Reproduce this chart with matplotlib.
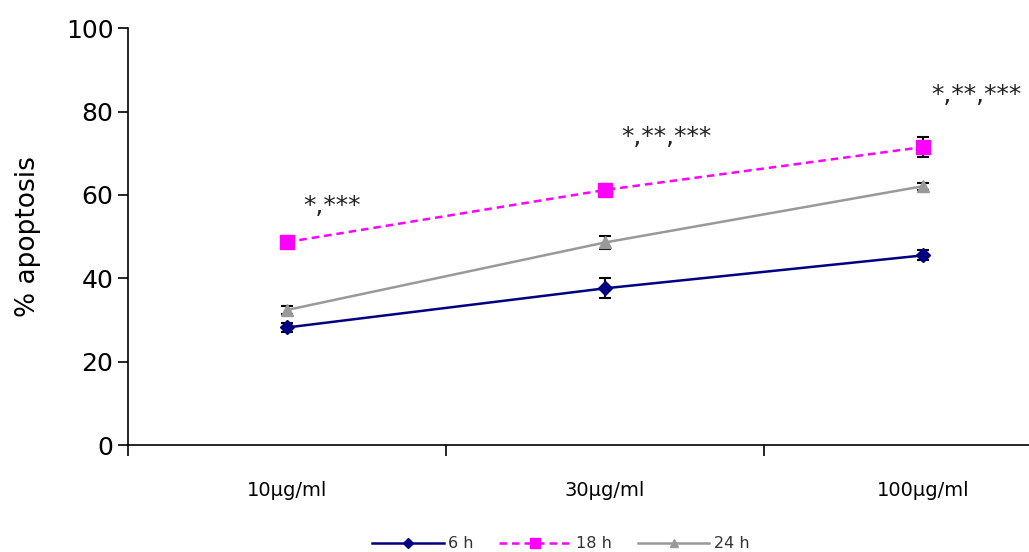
import matplotlib.pyplot as plt
from matplotlib.lines import Line2D
import numpy as np

doses = ['10\u00b5g/ml', '30\u00b5g/ml', '100\u00b5g/ml']
h6 = [28.2, 37.6, 45.5]
h6_err = [1.0, 2.4, 1.2]
h18 = [48.7, 61.2, 71.5]
h18_err = [1.5, 1.5, 2.5]
h24 = [32.4, 48.6, 62.1]
h24_err = [1.0, 1.6, 0.8]
stars = ['*,***', '*,**,***', '*,**,***']
star_y = [54.5, 71, 81]

x = np.arange(len(doses)) + 0.5

fig = plt.figure(figsize=(10.29, 5.52), dpi=100)
ax = fig.add_axes([0.1244, 0.1938, 0.927, 0.755])

styles = [
    (h6, h6_err, '#000080', 'D', 7, '-', '6 h'),
    (h18, h18_err, '#ff00ff', 's', 10, '--', '18 h'),
    (h24, h24_err, '#999999', '^', 9, '-', '24 h'),
]
handles = []
for vals, err, c, m, ms, ls, lab in styles:
    ax.errorbar(x, vals, yerr=err, fmt='none', ecolor='black', elinewidth=1.5,
                capsize=4, capthick=1.5)
    ln, = ax.plot(x, vals, color=c, marker=m, markersize=ms, lw=1.8, ls=ls)
    if ls == '--':
        ln.set_dashes((3, 2))
    h = Line2D([], [], color=c, marker=m, markersize=ms * 0.7, lw=1.8, ls=ls)
    if ls == '--':
        h.set_dashes((3, 2))
    handles.append((h, lab))

for i, (xi, s, yi) in enumerate(zip(x, stars, star_y)):
    ax.text(xi + (0.05 if i < 2 else 0.025), yi, s, fontsize=18,
            family='DejaVu Sans', ha='left', va='bottom', color='#222222')

ax.set_xlim(0, 3)
ax.set_ylim(0, 100)
ax.set_yticks([0, 20, 40, 60, 80, 100])
ax.set_xticks([0, 1, 2, 3])
ax.set_xticklabels([])
ax.set_xticks(x, minor=True)
ax.set_xticklabels(doses, minor=True, fontsize=14)
ax.tick_params(axis='x', which='minor', length=0, pad=26)
ax.tick_params(axis='x', which='major', length=8, width=1.2)
ax.tick_params(axis='y', labelsize=18, length=7, width=1.2)
ax.spines['top'].set_visible(False)
ax.spines['right'].set_visible(False)
ax.spines['left'].set_linewidth(1.2)
ax.spines['bottom'].set_linewidth(1.2)
ax.set_ylabel('% apoptosis', fontsize=19, labelpad=18)

fig.legend([h for h, _ in handles], [l for _, l in handles],
           loc='lower center', bbox_to_anchor=(0.545, -0.025), ncol=3,
           frameon=False, fontsize=11.5, handlelength=4.5, handletextpad=0.3,
           columnspacing=1.6, labelcolor='#333333')

fig.savefig('out.png', dpi=100)
